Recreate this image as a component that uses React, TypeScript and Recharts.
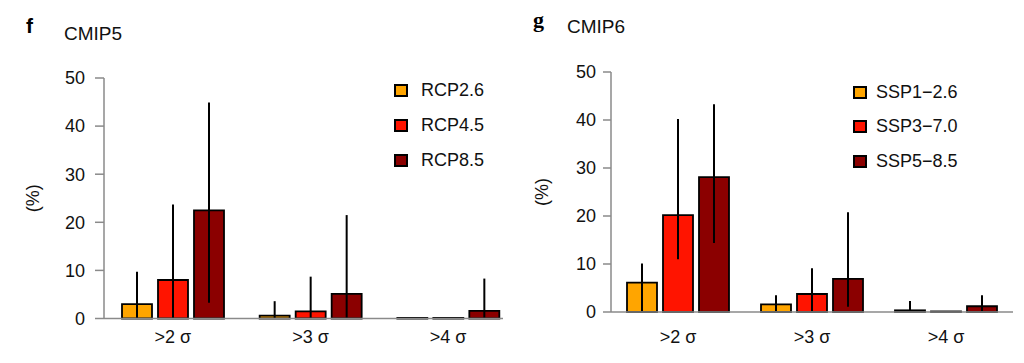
import { Bar, BarChart, ErrorBar, Legend, XAxis, YAxis } from "recharts";

const FONT = '"Liberation Sans", Arial, Helvetica, sans-serif';
const AXIS = "#8a8a8a";
const COLORS = ["#FFA500", "#FF1400", "#8B0000"];

const categories = [">2 σ", ">3 σ", ">4 σ"];
const yTicks = [0, 10, 20, 30, 40, 50];

// panel f – CMIP5
const cmip5Names = ["RCP2.6", "RCP4.5", "RCP8.5"];
const rcp26 = [3.0, 0.6, 0.15];
const rcp45 = [8.0, 1.5, 0.15];
const rcp85 = [22.5, 5.1, 1.6];
const rcp26Low = [0, 0, 0.15];
const rcp45Low = [0, 0, 0.15];
const rcp85Low = [3.3, 0, 0];
const rcp26High = [9.7, 3.6, 0.15];
const rcp45High = [23.7, 8.7, 0.15];
const rcp85High = [44.9, 21.5, 8.3];

// panel g – CMIP6
const cmip6Names = ["SSP1\u22122.6", "SSP3\u22127.0", "SSP5\u22128.5"];
const ssp126 = [6.1, 1.6, 0.35];
const ssp370 = [20.2, 3.75, 0.12];
const ssp585 = [28.1, 6.9, 1.2];
const ssp126Low = [0, 0, 0];
const ssp370Low = [11.0, 0, 0.12];
const ssp585Low = [14.4, 1.1, 0];
const ssp126High = [10.1, 3.5, 2.3];
const ssp370High = [40.2, 9.1, 0.12];
const ssp585High = [43.3, 20.8, 3.5];

function buildRows(values: number[][], lows: number[][], highs: number[][]) {
  return categories.map((cat, i) => {
    const row: any = { cat };
    values.forEach((v, s) => {
      row[`s${s}`] = v[i];
      row[`e${s}`] = [v[i] - lows[s][i], highs[s][i] - v[i]];
    });
    return row;
  });
}

const cmip5Rows = buildRows(
  [rcp26, rcp45, rcp85],
  [rcp26Low, rcp45Low, rcp85Low],
  [rcp26High, rcp45High, rcp85High]
);
const cmip6Rows = buildRows(
  [ssp126, ssp370, ssp585],
  [ssp126Low, ssp370Low, ssp585Low],
  [ssp126High, ssp370High, ssp585High]
);

function LegendBox({ names, rowH, gap }: { names: string[]; rowH: number; gap: number }) {
  return (
    <div style={{ fontFamily: FONT, fontSize: 18, color: "#111" }}>
      {names.map((n, s) => (
        <div key={n} style={{ display: "flex", alignItems: "center", height: rowH }}>
          <span
            style={{
              display: "inline-block",
              width: 14,
              height: 13,
              boxSizing: "border-box",
              border: "2px solid #000",
              background: COLORS[s],
              marginRight: gap,
            }}
          />
          <span>{n}</span>
        </div>
      ))}
    </div>
  );
}

interface PanelCfg {
  top: number;
  right: number;
  xh: number;
  yw: number;
  tick: number;
  tickMargin: number;
  xMargin: number;
  padRight: number;
  labelX: number;
  legendLeft: number;
  legendTop: number;
  legendRow: number;
  legendGap: number;
}

function Panel({ rows, names, cfg }: { rows: any[]; names: string[]; cfg: PanelCfg }) {
  return (
    <BarChart
      width={512}
      height={363}
      data={rows}
      margin={{ top: cfg.top, right: cfg.right, bottom: 0, left: 0 }}
      barSize={30}
      barGap={6}
    >
      <XAxis
        dataKey="cat"
        height={cfg.xh}
        interval={0}
        axisLine={{ stroke: AXIS, strokeWidth: 1.5 }}
        tickLine={false}
        tickSize={0}
        tickMargin={cfg.xMargin}
        padding={{ left: 0, right: cfg.padRight }}
        tick={{ fill: "#111", fontSize: 18 }}
      />
      <YAxis
        type="number"
        domain={[0, 50]}
        ticks={yTicks}
        width={cfg.yw}
        tickSize={cfg.tick}
        tickMargin={cfg.tickMargin}
        axisLine={{ stroke: AXIS, strokeWidth: 1.5 }}
        tickLine={{ stroke: AXIS, strokeWidth: 1.5 }}
        tick={{ fill: "#111", fontSize: 18 }}
        label={{
          value: "(%)",
          angle: -90,
          position: "insideLeft",
          offset: cfg.labelX,
          style: { textAnchor: "middle", fill: "#111", fontSize: 18 },
        }}
      />
      <Legend
        layout="vertical"
        align="center"
        verticalAlign="middle"
        wrapperStyle={{ left: cfg.legendLeft, top: cfg.legendTop }}
        content={() => <LegendBox names={names} rowH={cfg.legendRow} gap={cfg.legendGap} />}
      />
      {names.map((n, s) => (
        <Bar
          key={n}
          dataKey={`s${s}`}
          name={n}
          fill={COLORS[s]}
          stroke="#000"
          strokeWidth={1.8}
          isAnimationActive={false}
        >
          <ErrorBar
            dataKey={`e${s}`}
            direction="y"
            width={0}
            stroke="#000"
            strokeWidth={2}
            isAnimationActive={false}
          />
        </Bar>
      ))}
    </BarChart>
  );
}

const leftCfg: PanelCfg = {
  top: 78,
  right: 9,
  xh: 44.5,
  yw: 104,
  tick: 9,
  tickMargin: 10,
  xMargin: 11.5,
  padRight: -14,
  labelX: 33,
  legendLeft: 394,
  legendTop: 73,
  legendRow: 35,
  legendGap: 13,
};

const rightCfg: PanelCfg = {
  top: 72,
  right: 11,
  xh: 51,
  yw: 99,
  tick: 8,
  tickMargin: 7,
  xMargin: 18,
  padRight: 0,
  labelX: 30,
  legendLeft: 341,
  legendTop: 75,
  legendRow: 34.5,
  legendGap: 9,
};

export default function App() {
  return (
    <div
      style={{
        position: "absolute",
        left: 0,
        top: 0,
        width: 1024,
        height: 363,
        background: "#fff",
        fontFamily: FONT,
      }}
    >
      <div style={{ position: "absolute", left: 0, top: 0 }}>
        <Panel rows={cmip5Rows} names={cmip5Names} cfg={leftCfg} />
      </div>
      <div style={{ position: "absolute", left: 512, top: 0 }}>
        <Panel rows={cmip6Rows} names={cmip6Names} cfg={rightCfg} />
      </div>
      <svg
        width={1024}
        height={363}
        style={{ position: "absolute", left: 0, top: 0, pointerEvents: "none" }}
      >
        <text x={26} y={33} fontSize={21} fontWeight="bold" fill="#000" fontFamily={FONT}>
          f
        </text>
        <text x={64} y={40} fontSize={19} fill="#111" fontFamily={FONT}>
          CMIP5
        </text>
        <text
          x={533}
          y={26.5}
          fontSize={22}
          fontWeight="bold"
          fill="#000"
          fontFamily='"Liberation Serif", "Times New Roman", serif'
        >
          g
        </text>
        <text x={567} y={33} fontSize={19} fill="#111" fontFamily={FONT}>
          CMIP6
        </text>
      </svg>
    </div>
  );
}
